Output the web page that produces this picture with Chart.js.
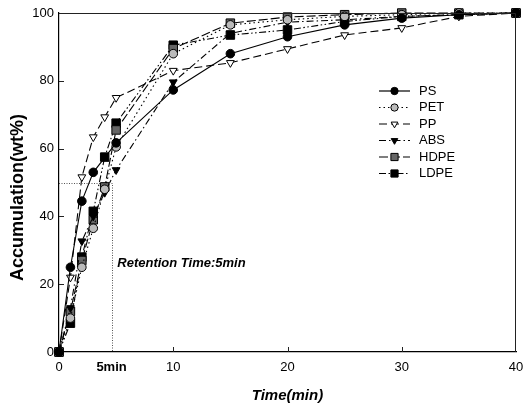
<!DOCTYPE html>
<html>
<head>
<meta charset="utf-8">
<script src="https://cdn.jsdelivr.net/npm/chart.js@4.4.1/dist/chart.umd.min.js"></script>
<style>
  body { margin: 0; background: #fff; }
  #wrap { width: 523px; height: 407px; }
</style>
</head>
<body>
<div id="wrap"><canvas id="accChart" width="523" height="407"></canvas></div>
<script>
// Sampling times (min)
const times = [0, 1, 2, 3, 4, 5, 10, 15, 20, 25, 30, 35, 40];

// Accumulation (wt%) for each plastic
const psValues   = [0, 25, 44.5, 53, null, 61.7, 77.3, 88, 93, 96.5, 98.5, 99.5, 100];
const petValues  = [0, 10, 25, 36.5, 48, 60.5, 88, 96.5, 98, 99, 99.5, 100, 100];
const ppValues   = [0, 22, 51.6, 63.4, 69.3, 75, 83, 85.3, 89.4, 93.5, 95.6, 99, 100];
const absValues  = [0, 13, 32.7, 40, 47, 53.7, 79.6, 94, 97.3, 98, 99, 99.5, 100];
const hdpeValues = [0, 12, 27, 39, 48.7, 65.5, 89.5, 97, 98.8, 99.5, 100, 100, 100];
const ldpeValues = [0, 8.5, 28, 41.5, 57.5, 67.5, 90.5, 93.5, 95, 97.5, 99, 99.5, 100];

// Axis ticks
const xTickValues = [0, 4.6, 10, 20, 30, 40];
const yTickValues = [0, 20, 40, 60, 80, 100];

// Retention time marker
const retentionX = 4.6;
const retentionY = 50;
const retentionLabel = "Retention Time:5min";

function toPoints(values) {
  return times.map((t, i) => ({ x: t, y: values[i] }));
}

function makeSeries(label, values, style, dash, fill, rotation, radius) {
  return {
    label: label,
    data: toPoints(values),
    borderColor: "#000",
    borderWidth: 1.1,
    borderDash: dash,
    pointStyle: style,
    pointRotation: rotation,
    pointRadius: radius,
    pointBackgroundColor: fill,
    pointBorderColor: "#000",
    pointBorderWidth: 1,
    spanGaps: true,
    tension: 0,
    fill: false,
  };
}

const datasets = [
  makeSeries("PS", psValues, "circle", [], "#000", 0, 4.3),
  makeSeries("PET", petValues, "circle", [1.5, 3], "#bbb", 0, 4.3),
  makeSeries("PP", ppValues, "triangle", [8, 4], "#fff", 180, 4.5),
  makeSeries("ABS", absValues, "triangle", [7, 3, 1.5, 3], "#000", 180, 4.5),
  makeSeries("HDPE", hdpeValues, "rect", [9, 3], "#666", 0, 6),
  makeSeries("LDPE", ldpeValues, "rect", [7, 2.5, 1.5, 2.5, 1.5, 2.5], "#000", 0, 6),
];

// Frame, inward ticks, retention lines, annotation and legend
const decorPlugin = {
  id: "decor",
  afterDatasetsDraw(chart) {
    const { ctx, chartArea: a, scales } = chart;
    const xs = scales.x, ys = scales.y;
    ctx.save();

    // top and right frame
    ctx.strokeStyle = "#222";
    ctx.lineWidth = 1;
    ctx.beginPath();
    ctx.moveTo(a.left, a.top + 0.5);
    ctx.lineTo(a.right - 0.5, a.top + 0.5);
    ctx.lineTo(a.right - 0.5, a.bottom);
    ctx.stroke();

    // inward ticks
    ctx.beginPath();
    [10, 20, 30].forEach((v) => {
      const px = Math.round(xs.getPixelForValue(v)) + 0.5;
      ctx.moveTo(px, a.bottom);
      ctx.lineTo(px, a.bottom - 5);
    });
    yTickValues.slice(1, -1).forEach((v) => {
      const py = Math.round(ys.getPixelForValue(v)) + 0.5;
      ctx.moveTo(a.left, py);
      ctx.lineTo(a.left + 5, py);
    });
    ctx.stroke();

    // retention time dotted lines
    ctx.strokeStyle = "#555";
    ctx.setLineDash([1, 1.5]);
    const rx = Math.round(xs.getPixelForValue(retentionX)) + 0.5;
    const ry = Math.round(ys.getPixelForValue(retentionY)) + 0.5;
    ctx.beginPath();
    ctx.moveTo(xs.getPixelForValue(0), ry);
    ctx.lineTo(rx, ry);
    ctx.lineTo(rx, ys.getPixelForValue(0));
    ctx.stroke();
    ctx.setLineDash([]);

    // annotation
    ctx.fillStyle = "#000";
    ctx.font = "italic bold 13px 'Liberation Sans', Arial, sans-serif";
    ctx.textAlign = "left";
    ctx.textBaseline = "middle";
    ctx.fillText(retentionLabel, xs.getPixelForValue(5.1), ys.getPixelForValue(26));

    // legend
    const lx = 379, lw = 31, ly0 = 91, step = 16.5;
    chart.data.datasets.forEach((ds, i) => {
      const y = ly0 + i * step;
      ctx.strokeStyle = "#000";
      ctx.lineWidth = 1.2;
      ctx.setLineDash(ds.borderDash);
      ctx.beginPath();
      ctx.moveTo(lx, y);
      ctx.lineTo(lx + lw, y);
      ctx.stroke();
      ctx.setLineDash([]);
      ctx.fillStyle = ds.pointBackgroundColor;
      ctx.strokeStyle = "#000";
      ctx.lineWidth = 1;
      Chart.helpers.drawPoint(ctx, {
        pointStyle: ds.pointStyle,
        rotation: ds.pointRotation,
        radius: ds.pointRadius * 0.85,
        borderWidth: 1,
      }, lx + lw / 2, y);
      ctx.fillStyle = "#000";
      ctx.font = "13px 'Liberation Sans', Arial, sans-serif";
      ctx.textAlign = "left";
      ctx.textBaseline = "middle";
      ctx.fillText(ds.label, 419, y);
    });
    ctx.restore();
  },
};

const ctx = document.getElementById("accChart").getContext("2d");
new Chart(ctx, {
  type: "line",
  data: { datasets: datasets },
  plugins: [decorPlugin],
  options: {
    responsive: false,
    animation: false,
    clip: false,
    layout: { padding: { top: 13, right: 7, left: 0, bottom: 0 } },
    plugins: {
      legend: { display: false },
      tooltip: { enabled: false },
    },
    scales: {
      x: {
        type: "linear",
        min: 0,
        max: 40,
        afterBuildTicks(scale) {
          scale.ticks = xTickValues.map((v) => ({ value: v }));
        },
        afterFit(scale) {
          scale.height = 55;
          scale.paddingLeft = 0;
          scale.paddingRight = 0;
        },
        grid: { display: false, drawTicks: false },
        border: { display: true, color: "#000", width: 1.2 },
        ticks: {
          padding: 8,
          color: "#000",
          autoSkip: false,
          maxRotation: 0,
          font: (c) => ({
            family: "'Liberation Sans', Arial, sans-serif",
            size: 13,
            weight: c.tick && c.tick.value === retentionX ? "bold" : "normal",
          }),
          callback: (v) => (v === retentionX ? "5min" : v),
        },
        title: {
          display: true,
          text: "Time(min)",
          color: "#000",
          padding: { top: 0, bottom: 2 },
          font: { family: "'Liberation Sans', Arial, sans-serif", size: 15, weight: "bold", style: "italic" },
        },
      },
      y: {
        type: "linear",
        min: 0,
        max: 100,
        afterBuildTicks(scale) {
          scale.ticks = yTickValues.map((v) => ({ value: v }));
        },
        afterFit(scale) {
          scale.width = 59;
          scale.paddingTop = 0;
          scale.paddingBottom = 0;
        },
        grid: { display: false, drawTicks: false },
        border: { display: true, color: "#000", width: 1.2 },
        ticks: {
          padding: 5,
          color: "#000",
          font: { family: "'Liberation Sans', Arial, sans-serif", size: 13 },
        },
        title: {
          display: true,
          text: "Accumulation(wt%)      ",
          color: "#000",
          padding: { top: 7, bottom: 0 },
          font: { family: "'Liberation Sans', Arial, sans-serif", size: 18, weight: "bold" },
        },
      },
    },
  },
});
</script>
</body>
</html>
